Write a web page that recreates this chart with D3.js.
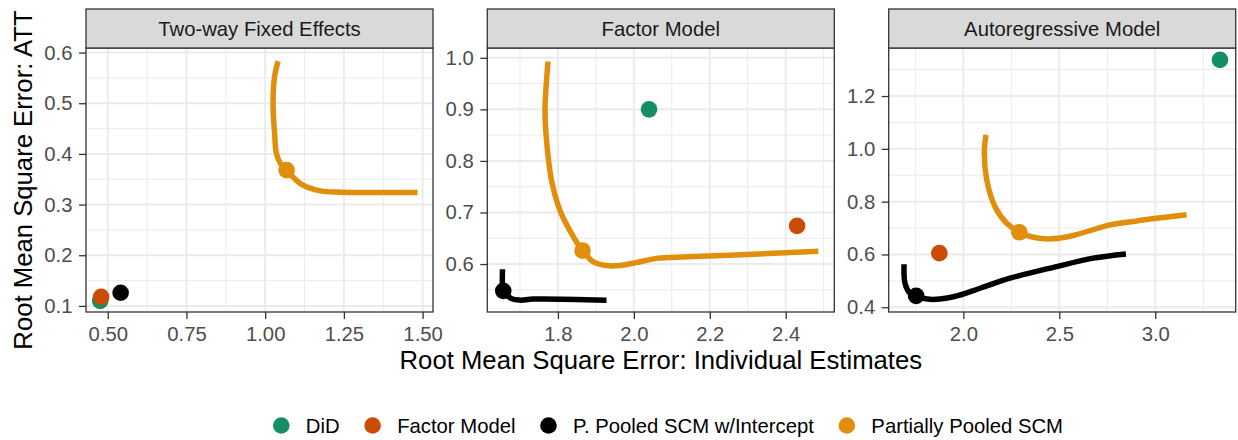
<!DOCTYPE html>
<html>
<head>
<meta charset="utf-8">
<script src="https://cdn.jsdelivr.net/npm/d3@7"></script>
<style>
  html, body { margin: 0; padding: 0; background: #fff; }
  svg { display: block; font-family: "Liberation Sans", Arial, Helvetica, sans-serif; }
</style>
</head>
<body>
<svg id="chart" width="1238" height="440"></svg>
<script>
// ---------------- data ----------------
const panelTitles = ["Two-way Fixed Effects", "Factor Model", "Autoregressive Model"];
const seriesNames = ["DiD", "Factor Model", "P. Pooled SCM w/Intercept", "Partially Pooled SCM"];
const seriesColors = ["#148F65", "#CC4C04", "#000000", "#E08E0B"];

// single points per panel (x = RMSE individual, y = RMSE ATT)
const didX = [0.476, 2.040, 3.337];
const didY = [0.110, 0.900, 1.337];
const factorX = [0.479, 2.430, 1.875];
const factorY = [0.118, 0.674, 0.605];
const ppInterceptX = [0.541, 1.656, 1.754];
const ppInterceptY = [0.126, 0.548, 0.443];
const ppX = [1.068, 1.865, 2.292];
const ppY = [0.368, 0.626, 0.684];

// curves traced over the hyper-parameter
const ppCurveTWFE = [[1.041,0.583],[1.030,0.553],[1.025,0.500],[1.030,0.440],[1.036,0.400],[1.049,0.381],[1.068,0.368],[1.113,0.341],[1.176,0.327],[1.240,0.3245],[1.350,0.324],[1.484,0.3236]];
const ppCurveFactor = [[1.774,0.993],[1.766,0.898],[1.770,0.840],[1.783,0.763],[1.805,0.705],[1.836,0.659],[1.865,0.626],[1.893,0.6045],[1.928,0.597],[1.963,0.597],[2.007,0.603],[2.060,0.611],[2.139,0.614],[2.315,0.619],[2.486,0.625]];
const ppCurveAR = [[2.118,1.053],[2.109,0.983],[2.122,0.882],[2.165,0.781],[2.226,0.718],[2.292,0.684],[2.365,0.665],[2.452,0.659],[2.573,0.672],[2.764,0.712],[2.903,0.727],[3.163,0.750]];
const ppiCurveTWFE = [];
const ppiCurveFactor = [[1.654,0.590],[1.654,0.556],[1.656,0.548],[1.678,0.533],[1.700,0.530],[1.735,0.532],[1.928,0.530]];
const ppiCurveAR = [[1.691,0.563],[1.696,0.491],[1.722,0.453],[1.754,0.443],[1.826,0.430],[1.948,0.440],[2.087,0.472],[2.243,0.510],[2.469,0.551],[2.677,0.586],[2.847,0.602]];

const xTicks = [[0.50, 0.75, 1.00, 1.25, 1.50], [1.8, 2.0, 2.2, 2.4], [2.0, 2.5, 3.0]];
const yTicks = [[0.1, 0.2, 0.3, 0.4, 0.5, 0.6], [0.6, 0.7, 0.8, 0.9, 1.0], [0.4, 0.6, 0.8, 1.0, 1.2]];
const xFormats = [".2f", ".1f", ".1f"];
const yFormats = [".1f", ".1f", ".1f"];
const xLimits = [[0.431, 1.533], [1.614, 2.528], [1.611, 3.419]];
const yLimits = [[0.088, 0.609], [0.507, 1.019], [0.382, 1.382]];

const xAxisTitle = "Root Mean Square Error: Individual Estimates";
const yAxisTitle = "Root Mean Square Error: ATT";

// ---------------- layout ----------------
const svg = d3.select("#chart");
svg.append("rect").attr("width", 1238).attr("height", 440).attr("fill", "#fff");

const panelLefts = [86, 487.3, 888.7];
const panelW = 347;
const stripTop = 9, panelTop = 48, panelBottom = 312;
const smallFont = 20.3, titleFont = 25.7;
const lineW = 5.5, pointR = 8.3;

const ppCurves = [ppCurveTWFE, ppCurveFactor, ppCurveAR];
const ppiCurves = [ppiCurveTWFE, ppiCurveFactor, ppiCurveAR];

function minors(ticks, dom) {
  const step = ticks[1] - ticks[0];
  const out = [];
  for (let k = -1; k < ticks.length; k++) {
    const v = (k < 0 ? ticks[0] : ticks[k]) + (k < 0 ? -step / 2 : step / 2);
    if (v > dom[0] && v < dom[1]) out.push(v);
  }
  return out;
}

panelTitles.forEach((title, i) => {
  const x0 = panelLefts[i], x1 = x0 + panelW;
  const x = d3.scaleLinear().domain(xLimits[i]).range([x0, x1]);
  const y = d3.scaleLinear().domain(yLimits[i]).range([panelBottom, panelTop]);
  const g = svg.append("g");

  // grid
  const grid = g.append("g");
  minors(xTicks[i], xLimits[i]).forEach(v => grid.append("line")
    .attr("x1", x(v)).attr("x2", x(v)).attr("y1", panelTop).attr("y2", panelBottom)
    .attr("stroke", "#EBEBEB").attr("stroke-width", 1));
  minors(yTicks[i], yLimits[i]).forEach(v => grid.append("line")
    .attr("y1", y(v)).attr("y2", y(v)).attr("x1", x0).attr("x2", x1)
    .attr("stroke", "#EBEBEB").attr("stroke-width", 1));
  xTicks[i].forEach(v => grid.append("line")
    .attr("x1", x(v)).attr("x2", x(v)).attr("y1", panelTop).attr("y2", panelBottom)
    .attr("stroke", "#EBEBEB").attr("stroke-width", 2));
  yTicks[i].forEach(v => grid.append("line")
    .attr("y1", y(v)).attr("y2", y(v)).attr("x1", x0).attr("x2", x1)
    .attr("stroke", "#EBEBEB").attr("stroke-width", 2));

  // curves
  const line = d3.line().x(d => x(d[0])).y(d => y(d[1])).curve(d3.curveCatmullRom.alpha(0.5));
  const clipId = "clip" + i;
  svg.append("clipPath").attr("id", clipId).append("rect")
    .attr("x", x0).attr("y", panelTop).attr("width", panelW).attr("height", panelBottom - panelTop);
  const marks = g.append("g").attr("clip-path", `url(#${clipId})`);
  if (ppiCurves[i].length) marks.append("path").attr("d", line(ppiCurves[i]))
    .attr("fill", "none").attr("stroke", seriesColors[2]).attr("stroke-width", lineW);
  if (ppCurves[i].length) marks.append("path").attr("d", line(ppCurves[i]))
    .attr("fill", "none").attr("stroke", seriesColors[3]).attr("stroke-width", lineW);

  // points
  const pts = [[didX[i], didY[i], 0], [factorX[i], factorY[i], 1], [ppInterceptX[i], ppInterceptY[i], 2], [ppX[i], ppY[i], 3]];
  marks.selectAll("circle.pt").data(pts).join("circle")
    .attr("cx", d => x(d[0])).attr("cy", d => y(d[1])).attr("r", pointR)
    .attr("fill", d => seriesColors[d[2]]);

  // panel border
  g.append("rect").attr("x", x0).attr("y", panelTop).attr("width", panelW).attr("height", panelBottom - panelTop)
    .attr("fill", "none").attr("stroke", "#333333").attr("stroke-width", 1.3);

  // strip
  g.append("rect").attr("x", x0).attr("y", stripTop).attr("width", panelW).attr("height", panelTop - stripTop)
    .attr("fill", "#D9D9D9").attr("stroke", "#333333").attr("stroke-width", 1.3);
  g.append("text").attr("x", (x0 + x1) / 2).attr("y", 35.5).attr("text-anchor", "middle")
    .attr("font-size", smallFont).attr("fill", "#1A1A1A").text(title);

  // axes
  const xa = g.append("g").attr("transform", `translate(0,${panelBottom})`)
    .call(d3.axisBottom(x).tickValues(xTicks[i]).tickFormat(d3.format(xFormats[i])).tickSize(7).tickPadding(7.5));
  const ya = g.append("g").attr("transform", `translate(${x0},0)`)
    .call(d3.axisLeft(y).tickValues(yTicks[i]).tickFormat(d3.format(yFormats[i])).tickSize(7).tickPadding(6.5));
  [xa, ya].forEach(a => {
    a.select(".domain").remove();
    a.selectAll(".tick line").attr("stroke", "#333333").attr("stroke-width", 1.3);
    a.selectAll(".tick text").attr("fill", "#4D4D4D").attr("font-size", smallFont)
      .attr("font-family", "Liberation Sans, Arial, Helvetica, sans-serif");
  });
});

// axis titles
svg.append("text").attr("x", (panelLefts[0] + panelLefts[2] + panelW) / 2).attr("y", 368.5)
  .attr("text-anchor", "middle").attr("font-size", titleFont).attr("fill", "#000").text(xAxisTitle);
svg.append("text").attr("transform", `translate(32,${(panelTop + panelBottom) / 2}) rotate(-90)`)
  .attr("text-anchor", "middle").attr("font-size", titleFont).attr("fill", "#000").text(yAxisTitle);

// legend
const legendGap = 33;
const legend = svg.append("g");
const items = legend.selectAll("g").data(seriesNames).join("g");
items.append("circle").attr("r", pointR).attr("cx", 0).attr("cy", 0).attr("fill", (d, k) => seriesColors[k]);
items.append("text").attr("x", 24.5).attr("y", 0).attr("dy", "0.35em").attr("font-size", smallFont)
  .attr("fill", "#000").text(d => d);
let cursor = 0;
const positions = [];
items.each(function () {
  const w = d3.select(this).select("text").node().getComputedTextLength();
  positions.push(cursor);
  cursor += 24.5 + w + legendGap;
});
const totalW = cursor - legendGap + pointR;
const legendCenter = 668;
const start = legendCenter - totalW / 2 + pointR;
items.attr("transform", (d, k) => `translate(${start + positions[k]},425.5)`);
</script>
</body>
</html>
